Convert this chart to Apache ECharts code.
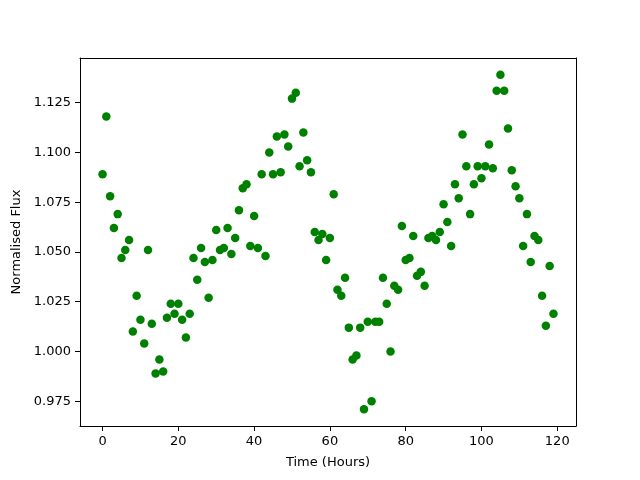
<!DOCTYPE html>
<html>
<head>
<meta charset="utf-8">
<script src="https://cdn.jsdelivr.net/npm/echarts@6/dist/echarts.min.js"></script>
<style>
  html, body { margin: 0; padding: 0; background: #fff; }
  #main { width: 640px; height: 480px; }
</style>
</head>
<body>
<div id="main"></div>
<script>
// time in hours, one reading per hour
var hours = [];
for (var i = 0; i < 120; i++) hours.push(i);

var flux = [
  1.089, 1.118, 1.078, 1.062, 1.069, 1.047, 1.051, 1.056, 1.010, 1.028,
  1.016, 1.004, 1.051, 1.014, 0.989, 0.996, 0.990, 1.017, 1.024, 1.019,
  1.024, 1.016, 1.007, 1.019, 1.047, 1.036, 1.052, 1.045, 1.027, 1.046,
  1.061, 1.051, 1.052, 1.062, 1.049, 1.057, 1.071, 1.082, 1.084, 1.053,
  1.068, 1.052, 1.089, 1.048, 1.100, 1.089, 1.108, 1.090, 1.109, 1.103,
  1.127, 1.130, 1.093, 1.110, 1.096, 1.090, 1.060, 1.056, 1.059, 1.046,
  1.057, 1.079, 1.031, 1.028, 1.037, 1.012, 0.996, 0.998, 1.012, 0.971,
  1.015, 0.975, 1.015, 1.015, 1.037, 1.024, 1.000, 1.033, 1.031, 1.063,
  1.046, 1.047, 1.058, 1.038, 1.040, 1.033, 1.057, 1.058, 1.056, 1.060,
  1.074, 1.065, 1.053, 1.084, 1.077, 1.109, 1.093, 1.069, 1.084, 1.093,
  1.087, 1.093, 1.104, 1.092, 1.131, 1.139, 1.131, 1.112, 1.091, 1.083,
  1.077, 1.053, 1.069, 1.045, 1.058, 1.056, 1.028, 1.013, 1.043, 1.019
];

var xTicks = [0, 20, 40, 60, 80, 100, 120];
var yTicks = [0.975, 1.000, 1.025, 1.050, 1.075, 1.100, 1.125];

var points = hours.map(function (h, k) { return [h, flux[k]]; });

var myChart = echarts.init(document.getElementById('main'));
var font = 'DejaVu Sans';
var xMin = -5.95, xMax = 124.95, yMin = 0.9626, yMax = 1.1474;

// plain frame line used for the top and right spines
function frame(pos, min, max) {
    return {
        type: 'value', position: pos, min: min, max: max,
        axisLine: { show: true, onZero: false, lineStyle: { color: '#000' } },
        axisTick: { show: false }, axisLabel: { show: false }, splitLine: { show: false }
    };
}

option = {
    backgroundColor: '#fff',
    animation: false,
    grid: { left: 80, right: 64, top: 58, bottom: 54 },
    xAxis: [{
        type: 'value',
        min: xMin, max: xMax,
        name: 'Time (Hours)',
        nameLocation: 'middle',
        nameGap: 30,
        nameTextStyle: { color: '#000', fontSize: 13, fontFamily: font },
        axisLine: { show: true, onZero: false, lineStyle: { color: '#000' } },
        axisTick: { show: true, length: 5, customValues: xTicks, lineStyle: { color: '#000' } },
        axisLabel: { customValues: xTicks, color: '#000', fontSize: 13, fontFamily: font, margin: 9 },
        splitLine: { show: false }
    }, frame('top', xMin, xMax)],
    yAxis: [{
        type: 'value',
        min: yMin, max: yMax,
        name: 'Normalised Flux',
        nameLocation: 'middle',
        nameGap: 56,
        nameTextStyle: { color: '#000', fontSize: 13, fontFamily: font },
        axisLine: { show: true, onZero: false, lineStyle: { color: '#000' } },
        axisTick: { show: true, length: 5, customValues: yTicks, lineStyle: { color: '#000' } },
        axisLabel: {
            customValues: yTicks, color: '#000', fontSize: 13, fontFamily: font, margin: 9,
            formatter: function (v) { return v.toFixed(3); }
        },
        splitLine: { show: false }
    }, frame('right', yMin, yMax)],
    series: [{
        type: 'scatter',
        data: points,
        symbol: 'circle',
        symbolSize: 8.5,
        itemStyle: { color: '#008000', opacity: 1 }
    }]
};
myChart.setOption(option);
</script>
</body>
</html>
